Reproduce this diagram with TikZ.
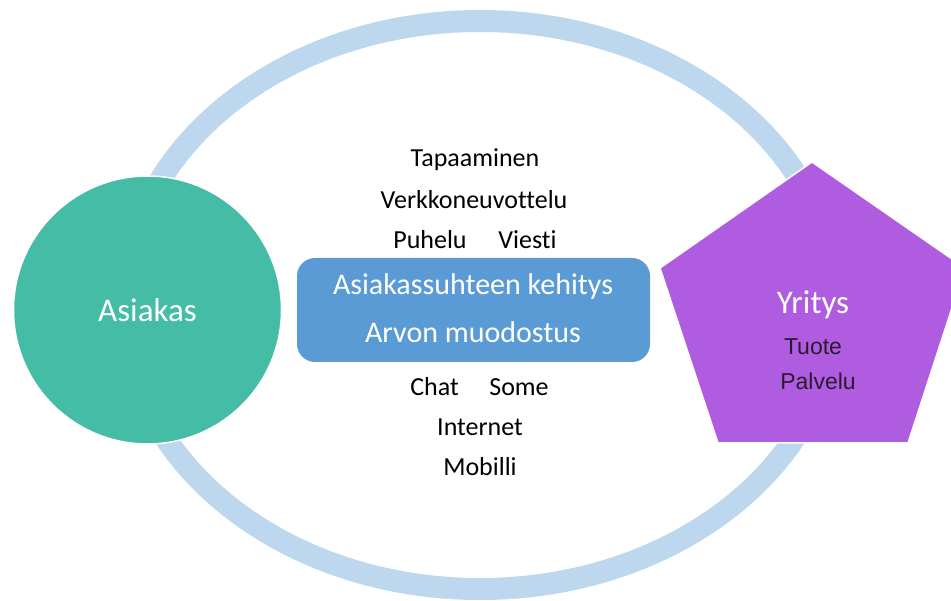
\documentclass[tikz,border=0pt]{standalone}
\usepackage{fontspec}
\setmainfont{Carlito}[Ligatures={NoCommon}]
\newfontfamily\arialf{Liberation Sans}
\definecolor{ringblue}{HTML}{BDD7EE}
\definecolor{tealc}{HTML}{45BCA6}
\definecolor{purplec}{HTML}{AF5CE0}
\definecolor{boxblue}{HTML}{5B9BD5}
\definecolor{darktxt}{HTML}{2A1B30}
\tikzset{
  chan/.style={font=\fontsize{26}{30}\selectfont, text=black, inner sep=0pt},
  bigwhite/.style={font=\fontsize{33}{38}\selectfont, text=white, inner sep=0pt},
  boxtxt/.style={font=\fontsize{30}{34}\selectfont, text=white, inner sep=0pt},
  prod/.style={font=\arialf\fontsize{23}{27}\selectfont, text=darktxt, inner sep=0pt},
}
\begin{document}
\begin{tikzpicture}[x=1pt,y=-1pt]
\useasboundingbox (0,0) rectangle (951,601);
\clip (0,0) rectangle (951,601);
% ring
\draw[ringblue, line width=22pt] (480,305) ellipse [x radius=356pt, y radius=284pt];
% customer circle
\node[circle, fill=tealc, draw=white, line width=1.5pt, minimum size=268pt, inner sep=0pt] (asiakas) at (147.5,310) {};
\node[bigwhite] (asiakastxt) at (asiakas.center) {Asiakas};
% company pentagon
\coordinate (p1) at (812,162);
\coordinate (p2) at (965,268);
\coordinate (p3) at (908,443);
\coordinate (p4) at (718,443);
\coordinate (p5) at (660,268);
\fill[purplec, draw=white, line width=1.5pt] (p1) -- (p2) -- (p3) -- (p4) -- (p5) -- cycle;
\node[bigwhite] (yritys) at (813,305) {Yritys};
\node[prod] (tuote) at (813,347) {Tuote};
\node[prod] (palvelu) at (818,381) {Palvelu};
% centre box
\node[rounded corners=18pt, fill=boxblue, minimum width=353pt, minimum height=104pt, inner sep=0pt] (box) at (473.5,310) {};
\node[boxtxt] (b1) at (473,287) {Asiakassuhteen kehitys};
\node[boxtxt] (b2) at (473,332) {Arvon muodostus};
% channels
\node[chan] (tap) at (475,160) {Tapaaminen};
\node[chan] (verk) at (474,200) {Verkkoneuvottelu};
\node[chan] (puh) at (430,240) {Puhelu};
\node[chan] (vie) at (527.5,240) {Viesti};
\node[chan] (chat) at (434.5,387) {Chat};
\node[chan] (some) at (519,387) {Some};
\node[chan] (int) at (480,427) {Internet};
\node[chan] (mob) at (480,467) {Mobilli};
\end{tikzpicture}
\end{document}
